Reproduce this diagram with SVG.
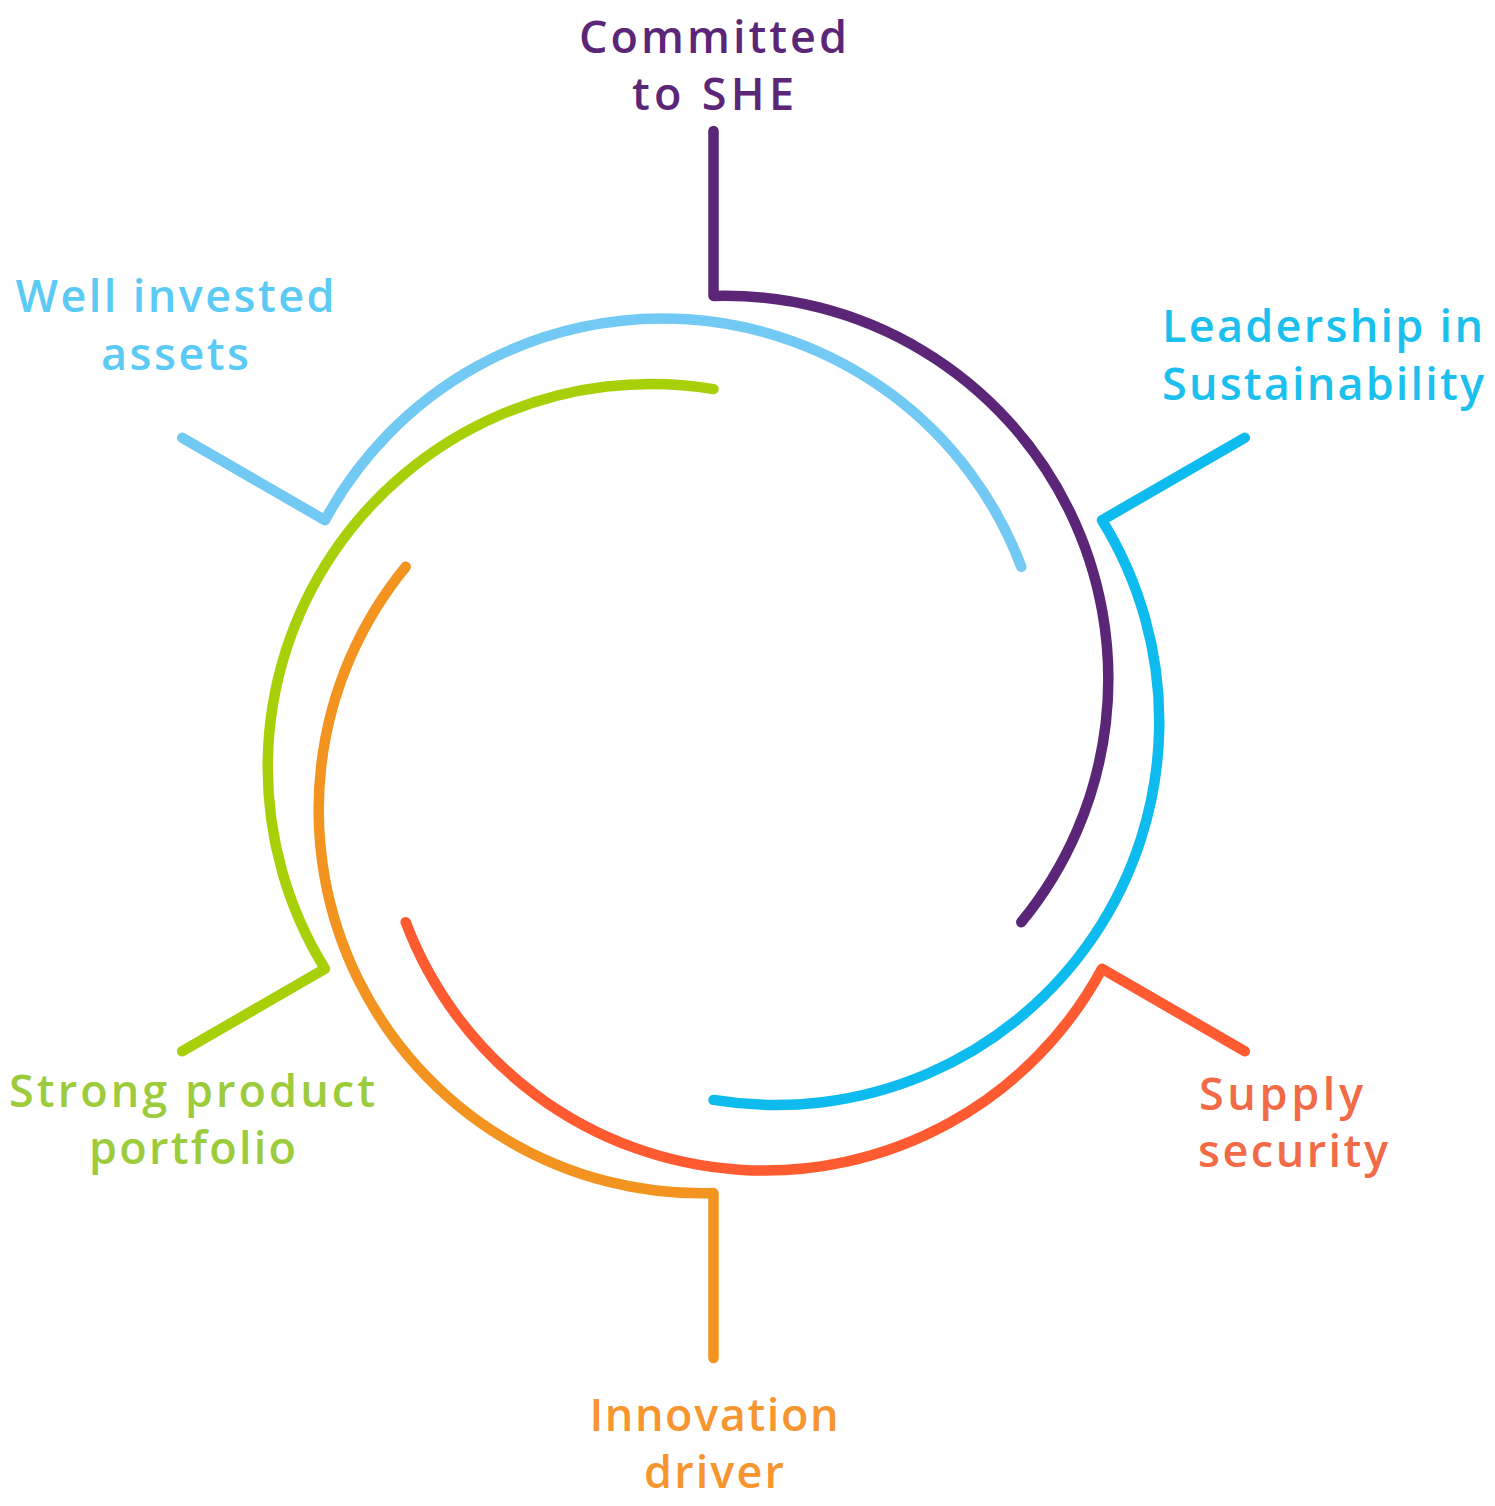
<svg xmlns="http://www.w3.org/2000/svg" width="1495" height="1506" viewBox="0 0 1495 1506">
<style>
.arc{fill:none;stroke-width:10.5;stroke-linecap:round;stroke-linejoin:round}
.lbl{font-family:"Open Sans","Liberation Sans",sans-serif;font-size:45px;font-weight:600}
</style>
<defs>
<path id="seg" d="M 713.5 131 L 713.5 295.9 A 383.3 383.3 0 0 1 1021.3 922.2"/>
</defs>
<rect width="1495" height="1506" fill="#ffffff"/>
<g id="connectors">
<use href="#seg" class="arc" stroke="#72CAF4" transform="rotate(300 713.5 744.5)"/>
<use href="#seg" class="arc" stroke="#5B2678" transform="rotate(0 713.5 744.5)"/>
<use href="#seg" class="arc" stroke="#0DBBEE" transform="rotate(60 713.5 744.5)"/>
<use href="#seg" class="arc" stroke="#FF5A30" transform="rotate(120 713.5 744.5)"/>
<use href="#seg" class="arc" stroke="#F39420" transform="rotate(180 713.5 744.5)"/>
<use href="#seg" class="arc" stroke="#A8D008" transform="rotate(240 713.5 744.5)"/>
</g>
<g id="node-she">
<text class="lbl" fill="#5B2678" text-anchor="middle" x="713" y="53" textLength="268">Committed</text>
<text class="lbl" fill="#5B2678" text-anchor="middle" x="713" y="110" textLength="162">to SHE</text>
</g>
<g id="node-sustainability">
<text class="lbl" fill="#1BC0EE" x="1162" y="342" textLength="321">Leadership in</text>
<text class="lbl" fill="#1BC0EE" x="1162" y="400" textLength="322">Sustainability</text>
</g>
<g id="node-supply">
<text class="lbl" fill="#F36A46" x="1199" y="1110" textLength="164">Supply</text>
<text class="lbl" fill="#F36A46" x="1198" y="1167" textLength="190">security</text>
</g>
<g id="node-innovation">
<text class="lbl" fill="#F7952F" text-anchor="middle" x="714" y="1431" textLength="249">Innovation</text>
<text class="lbl" fill="#F7952F" text-anchor="middle" x="714" y="1488" textLength="140">driver</text>
</g>
<g id="node-portfolio">
<text class="lbl" fill="#9CCB3B" text-anchor="middle" x="192" y="1107" textLength="366">Strong product</text>
<text class="lbl" fill="#9CCB3B" text-anchor="middle" x="192.5" y="1164" textLength="207">portfolio</text>
</g>
<g id="node-assets">
<text class="lbl" fill="#5BCBF5" text-anchor="middle" x="175" y="312" textLength="319">Well invested</text>
<text class="lbl" fill="#5BCBF5" text-anchor="middle" x="175" y="370" textLength="148">assets</text>
</g>
</svg>
